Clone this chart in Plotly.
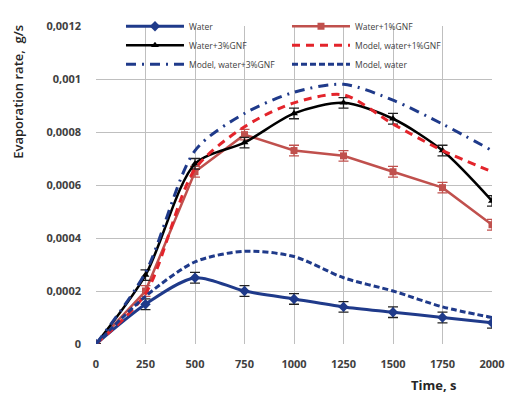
import plotly.graph_objects as go

time_s = [0, 250, 500, 750, 1000, 1250, 1500, 1750, 2000]
water = [0, 0.00015, 0.00025, 0.0002, 0.00017, 0.00014, 0.00012, 0.0001, 0.00008]
water_1gnf = [0, 0.0002, 0.00065, 0.00079, 0.00073, 0.00071, 0.00065, 0.00059, 0.00045]
water_3gnf = [0, 0.00026, 0.00068, 0.00076, 0.00087, 0.00091, 0.00085, 0.00073, 0.00054]
model_1gnf = [0, 0.00019, 0.00066, 0.00082, 0.00091, 0.00094, 0.00083, 0.00073, 0.00065]
model_3gnf = [0, 0.00027, 0.00073, 0.00087, 0.00095, 0.00098, 0.00092, 0.00083, 0.00073]
model_water = [0, 0.00018, 0.00031, 0.00035, 0.00033, 0.00025, 0.0002, 0.00014, 0.0001]
err = [0, 0.00002, 0.00002, 0.00002, 0.00002, 0.00002, 0.00002, 0.00002, 0.00002]

y_ticks = [0, 0.0002, 0.0004, 0.0006, 0.0008, 0.001, 0.0012]
y_tick_labels = ["0", "0,0002", "0,0004", "0,0006", "0,0008", "0,001", "0,0012"]
x_ticks = [0, 250, 500, 750, 1000, 1250, 1500, 1750, 2000]
x_tick_labels = [str(v) for v in x_ticks]

NAVY = "#1f3a8a"
RED_SOLID = "#c0504d"
RED_DASH = "#e3242b"

fig = go.Figure()
eb = lambda c: dict(type="data", array=err, visible=True, color=c, thickness=1.3, width=5)

fig.add_trace(go.Scatter(x=time_s, y=water, name="Water", mode="lines+markers",
    line=dict(color=NAVY, width=3, shape="spline", smoothing=0.8),
    marker=dict(symbol="diamond", size=8, color=NAVY), error_y=eb("#222222")))
fig.add_trace(go.Scatter(x=time_s, y=water_1gnf, name="Water+1%GNF", mode="lines+markers",
    line=dict(color=RED_SOLID, width=2.5),
    marker=dict(symbol="square", size=7, color=RED_SOLID), error_y=eb(RED_SOLID)))
fig.add_trace(go.Scatter(x=time_s, y=water_3gnf, name="Water+3%GNF", mode="lines+markers",
    line=dict(color="black", width=2.5, shape="spline", smoothing=0.8),
    marker=dict(symbol="triangle-up", size=7, color="black"), error_y=eb("#222222")))
fig.add_trace(go.Scatter(x=time_s, y=model_1gnf, name="Model, water+1%GNF", mode="lines",
    line=dict(color=RED_DASH, width=3, dash="8px,6px", shape="spline", smoothing=0.8)))
fig.add_trace(go.Scatter(x=time_s, y=model_3gnf, name="Model, water+3%GNF", mode="lines",
    line=dict(color=NAVY, width=3, dash="10px,6px,2px,6px", shape="spline", smoothing=0.8)))
fig.add_trace(go.Scatter(x=time_s, y=model_water, name="Model, water", mode="lines",
    line=dict(color=NAVY, width=3, dash="6px,3px", shape="spline", smoothing=0.8)))

tickfont = dict(family="Open Sans", size=11, color="#404040")
fig.update_layout(
    width=507, height=394,
    margin=dict(l=96, r=15, t=20, b=50),
    paper_bgcolor="white", plot_bgcolor="white",
    font=dict(family="Open Sans", color="#404040"),
    legend=dict(orientation="h", x=0.07, y=1.045, xanchor="left", yanchor="top",
                bgcolor="rgba(0,0,0,0)", entrywidth=0.465, entrywidthmode="fraction",
                itemwidth=58, tracegroupgap=0,
                font=dict(size=8.5, color="#404040"), traceorder="normal"),
    xaxis=dict(range=[0, 2000], tickvals=x_ticks,
               ticktext=["<b>%s</b>" % t for t in x_tick_labels],
               showgrid=True, gridcolor="#bfbfbf",
               gridwidth=1, zeroline=False, showline=False, tickfont=tickfont,
               ticks="", ticklabelstandoff=12, automargin=False),
    yaxis=dict(range=[0, 0.0012], tickvals=y_ticks,
               ticktext=["<b>%s</b>" % t for t in y_tick_labels], showgrid=True,
               gridcolor="#bfbfbf", gridwidth=1, zeroline=False, showline=False,
               tickfont=tickfont, ticks="", ticklabelstandoff=14, automargin=False),
    showlegend=True,
)
# white panel behind the legend, hiding the grid there
fig.add_shape(type="rect", xref="paper", yref="paper", x0=0.03, x1=0.965,
              y0=(344 - 72) / 324, y1=1.0, fillcolor="white", line_width=0, layer="below")
fig.add_annotation(text="Evaporation rate,  g/s", xref="paper", yref="paper",
                   x=(18 - 96) / 396, y=(344 - 87) / 324, textangle=-90,
                   xanchor="center", yanchor="middle", showarrow=False,
                   font=dict(size=13, color="#262626", family="Open Sans", weight=600))
fig.add_annotation(text="<b>Time, s</b>", xref="paper", yref="paper",
                   x=(434 - 96) / 396, y=(344 - 386) / 324,
                   xanchor="center", yanchor="middle", showarrow=False,
                   font=dict(size=13, color="#262626", family="Open Sans"))
fig.write_html("out.html", post_script="document.body.style.margin='0';",
               config={"displayModeBar": False})
